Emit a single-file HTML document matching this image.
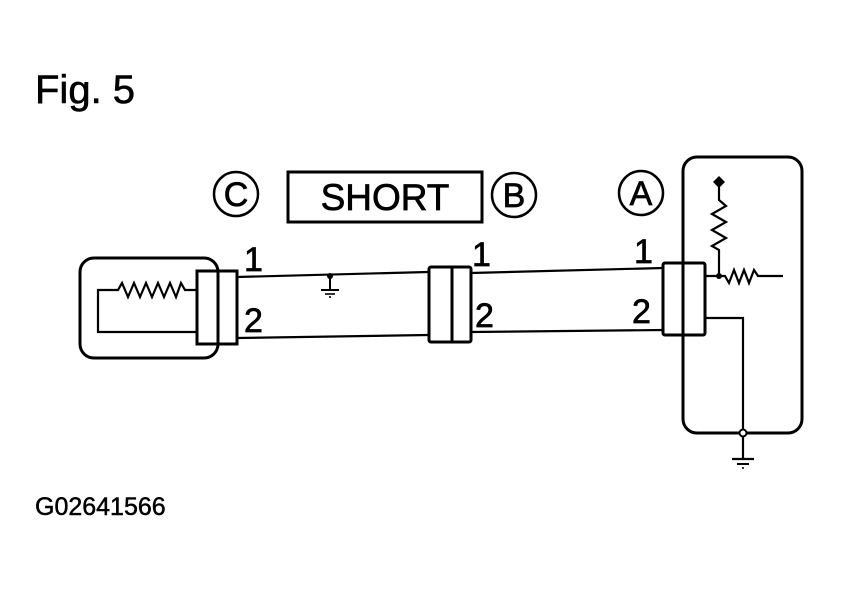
<!DOCTYPE html>
<html><head><style>html,body{margin:0;padding:0;background:#fff}</style></head>
<body>
<svg width="841" height="591" viewBox="0 0 841 591" xmlns="http://www.w3.org/2000/svg" font-family="Liberation Sans, sans-serif">
<rect width="841" height="591" fill="#fff"/>
<text x="35" y="103" font-size="40" stroke="#000" stroke-width="0.6">Fig. 5</text>
<text x="35" y="515" font-size="25" stroke="#000" stroke-width="0.5">G02641566</text>
<g fill="none" stroke="#000" stroke-width="3">
<rect x="80" y="258" width="138" height="100" rx="14"/>
<rect x="197" y="271" width="40" height="73"/>
<polyline points="197,290 185,290 181,283 176,297 170,283 164,297 158,283 152,297 146,283 140,297 134,283 128,297 122,283 118,290 98,290 98,332 197,332" stroke-width="2.2"/>
<polyline points="237,277 428,272" stroke-width="2.2"/>
<polyline points="237,338 428,335" stroke-width="2.2"/>
<polyline points="471,273 663,268" stroke-width="2.2"/>
<polyline points="471,332 663,330" stroke-width="2.2"/>
<line x1="330" y1="276" x2="330" y2="290" stroke-width="2"/>
<line x1="321" y1="290" x2="339" y2="290" stroke-width="2"/>
<line x1="325" y1="294" x2="335" y2="294" stroke-width="1.6"/>
<line x1="329" y1="297" x2="331" y2="297" stroke-width="1.6"/>
<rect x="429" y="267" width="42" height="75" rx="2"/>
<line x1="452" y1="267" x2="452" y2="342"/>
<rect x="683" y="157" width="119" height="276" rx="14"/>
<rect x="663" y="263" width="42" height="72" rx="2"/>
<polyline points="705,276 719,276 725,276 729,283 734,270 739,283 744,270 749,283 754,270 758,276 783,276" stroke-width="2.2"/>
<polyline points="719,276 719,250 712,246 726,238 712,230 726,222 712,214 726,206 719,200 719,184" stroke-width="2.2"/>
<polyline points="705,318 743,318 743,433" stroke-width="2.2"/>
<line x1="743" y1="436" x2="743" y2="458" stroke-width="2.2"/>
<line x1="732" y1="459" x2="754" y2="459" stroke-width="2.2"/>
<line x1="737" y1="464" x2="749" y2="464" stroke-width="2"/>
<line x1="742" y1="468" x2="744" y2="468" stroke-width="1.6"/>
<circle cx="236" cy="194" r="22" stroke-width="2.5"/>
<circle cx="514" cy="195" r="22" stroke-width="2.5"/>
<circle cx="641" cy="193" r="22" stroke-width="2.5"/>
<rect x="288" y="172" width="194" height="50"/>
</g>
<circle cx="330" cy="276" r="3" fill="#000"/>
<circle cx="719" cy="276" r="3" fill="#000"/>
<polygon points="719,176 725,182 719,188 713,182" fill="#000"/>
<circle cx="743" cy="433" r="3.5" fill="#fff" stroke="#000" stroke-width="2"/>
<g font-size="34" text-anchor="middle" stroke="#000" stroke-width="0.7">
<text x="236" y="206">C</text>
<text x="514" y="207">B</text>
<text x="641" y="205">A</text>
</g>
<text x="385" y="210" font-size="37" text-anchor="middle" stroke="#000" stroke-width="0.7">SHORT</text>
<g font-size="34" stroke="#000" stroke-width="0.7">
<text x="244" y="271">1</text>
<text x="244" y="332">2</text>
<text x="472" y="266">1</text>
<text x="475" y="327">2</text>
<text x="634" y="263">1</text>
<text x="632" y="323">2</text>
</g>
</svg>
</body></html>
